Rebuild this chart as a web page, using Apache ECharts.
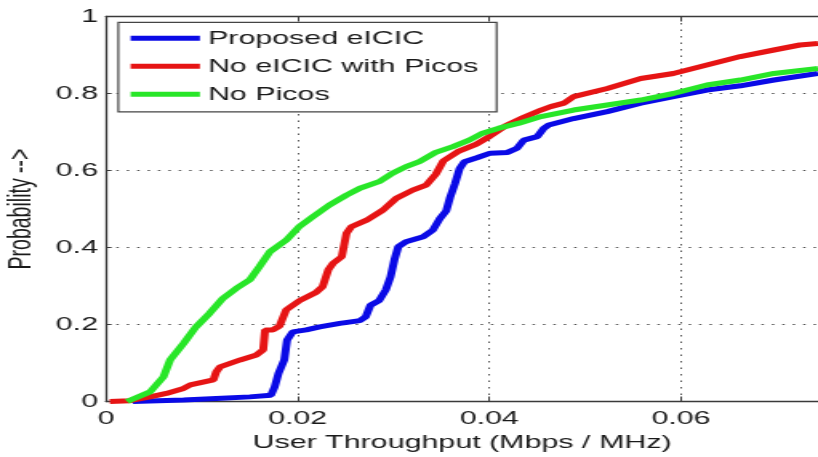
<!DOCTYPE html>
<html>
<head>
<meta charset="utf-8">
<script src="https://cdn.jsdelivr.net/npm/echarts@6/dist/echarts.min.js"></script>
<style>
html,body{margin:0;padding:0;background:#fff;overflow:hidden;}
#c{width:511px;height:457px;transform:scaleX(1.6008);transform-origin:0 0;}
</style>
</head>
<body>
<div id="c"></div>
<script>
var seriesNames = ['Proposed eICIC', 'No eICIC with Picos', 'No Picos'];
var xTickValues = [0, 0.02, 0.04, 0.06];
var yTickValues = [0, 0.2, 0.4, 0.6, 0.8, 1];

var blueX = [0.0028,0.0081,0.0115,0.015,0.0172,0.0176,0.0180,0.0186,0.0189,0.0195,0.0209,0.0223,0.0244,0.0265,0.0271,0.0276,0.0285,0.0292,0.0297,0.0301,0.0305,0.0313,0.0331,0.0341,0.0348,0.0355,0.0359,0.0364,0.0369,0.0374,0.0387,0.0401,0.0419,0.0429,0.0436,0.045,0.0457,0.0462,0.0488,0.0523,0.0558,0.0592,0.0627,0.0662,0.0697,0.0743];
var blueY = [0,0.004,0.008,0.012,0.016,0.038,0.073,0.108,0.16,0.181,0.186,0.194,0.203,0.21,0.22,0.25,0.262,0.29,0.324,0.368,0.402,0.415,0.428,0.445,0.474,0.495,0.53,0.565,0.605,0.623,0.633,0.645,0.647,0.658,0.679,0.688,0.71,0.718,0.735,0.753,0.775,0.792,0.809,0.82,0.835,0.852];

var redX = [0.0004,0.0025,0.0046,0.0063,0.0081,0.0088,0.0112,0.0115,0.0119,0.014,0.0157,0.0164,0.0166,0.0174,0.0181,0.0188,0.0202,0.0219,0.0226,0.0232,0.0237,0.0246,0.0251,0.0256,0.0272,0.0289,0.0303,0.032,0.0334,0.0344,0.0352,0.0367,0.0386,0.04,0.0417,0.0436,0.0454,0.0464,0.0478,0.0488,0.0523,0.0558,0.0592,0.0627,0.0662,0.0697,0.0724,0.0743];
var redY = [0,0.002,0.012,0.021,0.034,0.043,0.056,0.077,0.09,0.108,0.121,0.134,0.186,0.186,0.196,0.238,0.262,0.283,0.298,0.342,0.359,0.376,0.437,0.454,0.471,0.497,0.528,0.549,0.562,0.59,0.625,0.649,0.668,0.688,0.716,0.738,0.757,0.766,0.775,0.792,0.813,0.839,0.852,0.874,0.896,0.913,0.926,0.93];

var greenX = [0.0022,0.0046,0.006,0.0067,0.0081,0.0094,0.0108,0.0122,0.0136,0.015,0.016,0.0171,0.0188,0.0202,0.0216,0.0233,0.0251,0.0265,0.0285,0.0299,0.0313,0.0327,0.0344,0.0362,0.0379,0.0393,0.041,0.0431,0.0454,0.0488,0.0523,0.0558,0.0592,0.0627,0.0662,0.0697,0.0743];
var greenY = [0,0.025,0.064,0.108,0.151,0.194,0.229,0.268,0.294,0.316,0.35,0.389,0.419,0.455,0.48,0.51,0.536,0.554,0.571,0.593,0.61,0.623,0.647,0.662,0.679,0.697,0.71,0.723,0.74,0.757,0.77,0.783,0.8,0.822,0.835,0.852,0.865];

function zip(xs, ys) { return xs.map(function (x, i) { return [x, ys[i]]; }); }

var FONT = 'Liberation Sans';
var TXT = '#1a1a1a';
var AX = '#3a3a3a';

function pick(ticks) {
  return function (v) {
    for (var i = 0; i < ticks.length; i++) {
      if (Math.abs(v - ticks[i]) < 1e-9) return String(ticks[i]);
    }
    return '';
  };
}

var chart = echarts.init(document.getElementById('c'));
chart.setOption({
  animation: false,
  backgroundColor: '#fff',
  grid: { left: 66.2, right: 0, top: 16.5, bottom: 55.5, containLabel: false, outerBoundsMode: 'none' },
  legend: {
    orient: 'vertical',
    left: 73.9,
    top: 22.3,
    data: seriesNames,
    icon: 'rect',
    itemWidth: 43.3,
    itemHeight: 5,
    itemGap: 9,
    padding: [6.5, 11.4, 8, 7.7],
    backgroundColor: '#fff',
    borderColor: '#444',
    borderWidth: 1.2,
    borderRadius: 0,
    textStyle: { fontFamily: FONT, fontSize: 19, color: TXT, lineHeight: 19 },
    selectedMode: false
  },
  xAxis: [{
    type: 'value',
    min: 0, max: 0.0743, interval: 0.02,
    name: 'User Throughput (Mbps / MHz)',
    nameLocation: 'middle',
    nameGap: 31,
    nameTextStyle: { fontFamily: FONT, fontSize: 19, color: TXT },
    axisLine: { show: true, lineStyle: { color: AX, width: 1.3 } },
    axisTick: { show: true, inside: true, length: 5, lineStyle: { color: AX, width: 1 } },
    axisLabel: { formatter: pick(xTickValues), fontFamily: FONT, fontSize: 19, color: TXT, margin: 8, showMaxLabel: false },
    splitLine: { show: true, lineStyle: { color: '#555', width: 1, type: [1.5, 5] } }
  }, {
    type: 'value',
    position: 'top',
    min: 0, max: 0.0743, interval: 0.02,
    axisLine: { show: true, lineStyle: { color: AX, width: 1.3 } },
    axisTick: { show: true, inside: true, length: 5, lineStyle: { color: AX, width: 1 } },
    axisLabel: { show: false },
    splitLine: { show: false }
  }],
  yAxis: {
    type: 'value',
    min: 0, max: 1, interval: 0.2,
    name: 'Probability -->',
    nameLocation: 'middle',
    nameGap: 41.5,
    nameTextStyle: { fontFamily: FONT, fontSize: 19.5, color: TXT },
    axisLine: { show: true, lineStyle: { color: AX, width: 1.3 } },
    axisTick: { show: true, inside: true, length: 3.5, lineStyle: { color: AX, width: 1 } },
    axisLabel: { fontFamily: FONT, fontSize: 19, color: TXT, margin: 5, formatter: pick(yTickValues) },
    splitLine: { show: true, lineStyle: { color: '#555', width: 1, type: [1.5, 5] } }
  },
  series: [
    { name: seriesNames[0], type: 'line', data: zip(blueX, blueY), showSymbol: false, symbol: 'none',
      lineStyle: { color: '#0a0ae6', width: 5 }, itemStyle: { color: '#0a0ae6' }, z: 3 },
    { name: seriesNames[1], type: 'line', data: zip(redX, redY), showSymbol: false, symbol: 'none',
      lineStyle: { color: '#e61414', width: 5 }, itemStyle: { color: '#e61414' }, z: 4 },
    { name: seriesNames[2], type: 'line', data: zip(greenX, greenY), showSymbol: false, symbol: 'none',
      lineStyle: { color: '#28e628', width: 5 }, itemStyle: { color: '#28e628' }, z: 5 }
  ]
});
</script>
</body>
</html>
